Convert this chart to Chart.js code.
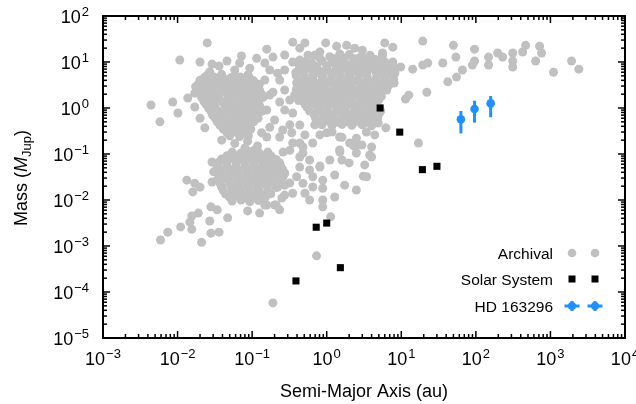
<!DOCTYPE html>
<html>
<head>
<meta charset="utf-8">
<script src="https://cdn.jsdelivr.net/npm/chart.js@4.4.1/dist/chart.umd.min.js"></script>
<style>
  html, body { margin: 0; padding: 0; background: #fff; }
  #chart { display: block; }
</style>
</head>
<body>
<canvas id="chart" width="636" height="404"></canvas>
<script>
// archival exoplanets: [semi-major axis (au), mass (M_Jup)]
const archival = [
  // cold/warm giants
  [0.69,14],[1.1,13],[1.5,15],[2.0,14.5],[2.8,12.5],[3.8,14],
  [0.81,12],[1.28,11.8],[1.74,12.2],[2.37,11.7],[3.23,12],[4.4,11.5],
  [0.51,10],[0.63,9.5],[0.87,10.5],[1.18,9.8],[1.6,10.2],[2.2,9.6],[3.0,10.4],[4.0,9.9],[5.1,10],[6.4,9.2],
  [0.43,8.2],[0.57,8.4],[0.73,8.0],[1.0,8.3],[1.36,8.1],[1.85,8.4],[2.52,8.0],[3.43,8.2],[4.55,8.3],[6.0,8.1],
  [0.44,7.0],[0.57,7.4],[0.76,6.8],[1.0,7.2],[1.32,6.9],[1.74,7.3],[2.3,6.7],[3.0,7.1],[4.0,7.4],[5.3,6.8],[7.0,7.0],
  [0.385,5.9],[0.49,6.1],[0.65,5.8],[0.87,6.0],[1.13,5.9],[1.49,6.1],[1.97,5.8],[2.6,6.0],[3.43,5.9],[4.55,6.1],[6.0,5.8],[7.5,6.0],
  [0.39,5.0],[0.51,4.7],[0.67,5.2],[0.88,4.9],[1.18,5.1],[1.54,4.8],[2.03,5.0],[2.7,5.2],[3.5,4.8],[4.7,5.0],[6.2,4.9],[7.9,5.1],
  [0.49,4.2],[0.65,4.1],[0.87,4.25],[1.13,4.1],[1.49,4.2],[1.97,4.15],[2.6,4.1],[3.43,4.25],[4.55,4.1],[6.0,4.2],[7.9,4.1],
  [0.45,3.5],[0.59,3.7],[0.77,3.4],[1.02,3.6],[1.35,3.3],[1.77,3.5],[2.35,3.8],[3.1,3.4],[4.1,3.6],[5.4,3.5],[7.0,3.3],
  [0.42,2.95],[0.55,2.9],[0.72,3.0],[0.95,2.9],[1.26,2.95],[1.65,3.0],[2.2,2.9],[2.9,2.95],[3.8,3.0],[5.0,2.9],[6.6,2.95],
  [0.39,2.5],[0.51,2.4],[0.67,2.6],[0.88,2.45],[1.18,2.35],[1.54,2.55],[2.03,2.4],[2.7,2.5],[3.5,2.6],[4.7,2.4],[6.2,2.5],
  [0.42,2.05],[0.55,2.1],[0.72,2.0],[0.95,2.08],[1.26,2.05],[1.65,2.1],[2.2,2.0],[2.9,2.07],[3.8,2.1],[5.0,2.03],
  [0.45,1.75],[0.59,1.8],[0.77,1.7],[1.02,1.78],[1.35,1.68],[1.77,1.75],[2.35,1.82],[3.1,1.7],[4.1,1.75],[5.4,1.8],
  [0.42,1.45],[0.55,1.5],[0.72,1.42],[0.95,1.48],[1.26,1.45],[1.65,1.5],[2.2,1.42],[2.9,1.47],[3.8,1.45],[5.0,1.5],
  [0.51,1.2],[0.67,1.25],[0.88,1.18],[1.18,1.22],[1.54,1.28],[2.03,1.2],[2.7,1.15],[3.5,1.24],[4.5,1.2],
  [0.58,1.03],[0.77,1.0],[1.02,1.05],[1.35,1.02],[1.77,1.0],[2.35,1.04],[3.1,1.02],[4.0,1.0],[5.0,1.03],
  [0.59,0.86],[0.78,0.9],[1.03,0.84],[1.36,0.88],[1.8,0.82],[2.37,0.87],[3.1,0.9],[4.1,0.84],[5.3,0.86],
  [0.68,0.72],[0.9,0.74],[1.2,0.71],[1.56,0.73],[2.07,0.72],[2.7,0.74],[3.6,0.71],[4.7,0.72],
  [0.71,0.6],[0.94,0.62],[1.24,0.58],[1.64,0.61],[2.17,0.6],[2.85,0.63],[3.77,0.59],[4.8,0.6],
  [0.82,0.5],[1.08,0.51],[1.43,0.49],[1.9,0.5],[2.5,0.51],[3.3,0.49],[4.25,0.5],
  [0.86,0.43],[1.18,0.41],[1.6,0.44],[2.17,0.42],[3.0,0.43],[4.0,0.41],
  [0.35,27],[0.97,26],[1.36,22],[1.85,23],[2.37,20],[3.0,18],[6.0,26],[7.7,21],[0.81,16.5],[5.6,14],
  [7.7,10],[8.2,7.3],[0.56,14],[0.435,11],[0.157,19],[0.19,12.8],[0.148,9.5],
  [6.2,0.37],[4.4,0.26],[4.0,0.142],[3.77,0.095],[3.1,0.033],[2.5,0.0165],[5.1,0.78],[4.9,0.47],[3.4,0.30],
  [2.0,0.064],[2.3,0.15],[1.5,0.11],[0.81,0.052],[1.6,0.23],[1.18,0.30],[2.5,0.22],[2.96,0.157],
  // hot jupiters
  [0.025,5.2],[0.039,5.4],[0.059,5.0],[0.088,5.3],
  [0.023,4.6],[0.031,4.7],[0.04,4.5],[0.053,4.6],[0.07,4.7],[0.092,4.5],
  [0.02,4.0],[0.027,4.2],[0.034,3.9],[0.046,4.1],[0.061,4.0],[0.08,4.2],[0.105,3.9],
  [0.019,3.3],[0.025,3.4],[0.031,3.2],[0.042,3.3],[0.056,3.4],[0.074,3.3],[0.097,3.2],[0.125,3.3],
  [0.0175,2.9],[0.0225,2.8],[0.0295,2.95],[0.039,2.85],[0.052,2.9],[0.068,2.8],[0.089,2.95],[0.118,2.85],
  [0.019,2.4],[0.024,2.45],[0.031,2.35],[0.042,2.4],[0.056,2.45],[0.074,2.35],[0.097,2.4],[0.126,2.4],
  [0.02,2.0],[0.026,2.1],[0.034,1.95],[0.046,2.05],[0.061,2.0],[0.08,2.1],[0.105,1.95],[0.134,2.0],
  [0.021,1.7],[0.027,1.72],[0.036,1.68],[0.048,1.7],[0.064,1.72],[0.085,1.68],[0.11,1.7],[0.14,1.7],
  [0.0225,1.4],[0.0295,1.45],[0.039,1.38],[0.052,1.42],[0.068,1.46],[0.089,1.4],[0.118,1.43],
  [0.024,1.2],[0.031,1.18],[0.042,1.22],[0.055,1.2],[0.072,1.18],[0.095,1.22],[0.124,1.2],
  [0.026,1.0],[0.0325,0.97],[0.044,1.03],[0.0585,0.98],[0.077,1.02],[0.102,0.99],[0.13,1.0],
  [0.028,0.85],[0.036,0.83],[0.048,0.86],[0.063,0.84],[0.083,0.86],[0.108,0.84],[0.135,0.85],
  [0.0295,0.7],[0.039,0.72],[0.052,0.69],[0.068,0.71],[0.089,0.7],[0.114,0.68],
  [0.032,0.6],[0.042,0.58],[0.056,0.61],[0.074,0.59],[0.097,0.6],[0.12,0.6],
  [0.034,0.5],[0.046,0.48],[0.061,0.51],[0.08,0.49],[0.105,0.5],
  [0.037,0.42],[0.05,0.41],[0.066,0.43],[0.088,0.42],
  [0.041,0.35],[0.055,0.36],[0.073,0.34],[0.096,0.35],
  [0.046,0.29],[0.06,0.3],[0.08,0.29],
  [0.05,0.25],[0.068,0.24],[0.089,0.25],
  [0.025,26],[0.02,10],[0.029,9.0],[0.036,8.2],[0.046,10.5],[0.068,9.5],[0.072,13.5],[0.115,12],
  [0.0107,11],[0.0585,6.7],[0.093,7.3],[0.027,6.1],
  [0.0044,1.16],[0.0086,1.35],[0.0058,0.5],[0.0101,0.78],[0.0137,1.65],[0.017,2.1],[0.017,1.05],
  [0.02,0.6],[0.0232,0.37],
  [0.0585,0.17],[0.087,0.19],[0.118,0.15],[0.039,0.2],[0.134,0.29],[0.08,0.135],[0.108,0.122],
  // super-earths / neptunes
  [0.054,0.11],[0.071,0.105],[0.093,0.112],[0.122,0.108],[0.162,0.11],
  [0.046,0.092],[0.061,0.09],[0.08,0.094],[0.105,0.091],[0.138,0.093],[0.18,0.09],
  [0.039,0.078],[0.052,0.08],[0.068,0.076],[0.089,0.079],[0.118,0.077],[0.157,0.08],[0.21,0.076],
  [0.036,0.066],[0.046,0.064],[0.061,0.067],[0.08,0.065],[0.105,0.066],[0.138,0.064],[0.183,0.067],[0.23,0.065],
  [0.034,0.055],[0.046,0.053],[0.061,0.056],[0.08,0.054],[0.105,0.057],[0.138,0.053],[0.183,0.055],[0.242,0.054],
  [0.037,0.046],[0.049,0.047],[0.064,0.045],[0.085,0.046],[0.112,0.047],[0.147,0.045],[0.195,0.046],[0.255,0.047],
  [0.039,0.038],[0.052,0.04],[0.068,0.037],[0.089,0.039],[0.118,0.04],[0.157,0.037],[0.21,0.039],[0.273,0.038],
  [0.036,0.032],[0.049,0.033],[0.064,0.032],[0.085,0.0325],[0.112,0.033],[0.147,0.032],[0.195,0.033],[0.26,0.032],
  [0.034,0.027],[0.046,0.028],[0.061,0.026],[0.08,0.0275],[0.105,0.027],[0.138,0.028],[0.183,0.026],[0.242,0.027],
  [0.037,0.023],[0.049,0.0235],[0.064,0.0225],[0.085,0.023],[0.112,0.0235],[0.147,0.023],[0.195,0.0228],[0.24,0.023],
  [0.039,0.019],[0.052,0.02],[0.068,0.0185],[0.089,0.0195],[0.118,0.019],[0.157,0.02],[0.21,0.0188],
  [0.041,0.016],[0.054,0.0162],[0.071,0.0158],[0.093,0.016],[0.124,0.0162],[0.165,0.0158],
  [0.044,0.0135],[0.0585,0.014],[0.077,0.013],[0.102,0.0138],[0.134,0.0132],[0.178,0.0136],
  [0.05,0.0115],[0.066,0.0117],[0.086,0.0113],[0.113,0.0116],[0.15,0.0114],
  [0.054,0.0095],[0.071,0.01],[0.093,0.0092],[0.122,0.0097],
  [0.087,0.0058],[0.126,0.0052],[0.157,0.0078],[0.21,0.0078],[0.234,0.0061],[0.028,0.0071],[0.034,0.0061],
  [0.047,0.0041],[0.027,0.0035],[0.019,0.0052],[0.0155,0.0045],[0.0059,0.00135],[0.0074,0.002],
  [0.011,0.0026],[0.0155,0.0023],[0.021,0.0012],[0.028,0.0019],[0.036,0.002],[0.19,0.000058],
  [0.73,0.00061],[0.0146,0.0033],
  [0.0133,0.027],[0.017,0.023],[0.02,0.019],[0.016,0.015],[0.029,0.067],[0.0305,0.041],[0.029,0.0246],
  // in between
  [1.13,0.0043],[0.885,0.0071],[0.885,0.01],[1.28,0.0116],[0.885,0.018],[0.885,0.027],[0.65,0.032],
  [0.48,0.023],[0.59,0.01],[0.25,0.011],[0.2,0.0078],[0.148,0.0078],[0.81,0.055],[1.49,0.122],
  [2.5,0.105],[3.23,0.058],[3.43,0.032],[4.0,0.086],[2.6,0.157],[1.6,0.074],[1.0,0.29],[0.65,0.173],
  [0.48,0.142],[0.35,0.173],[0.48,0.105],[0.59,0.074],[0.435,0.052],[0.395,0.032],[0.273,0.0386],
  [0.319,0.0234],[0.22,0.019],[0.172,0.027],[0.157,0.052],[0.2,0.067],[0.162,0.086],[0.26,0.11],
  [0.157,0.234],[0.234,0.234],[0.34,0.29],[0.435,0.173],[0.81,0.26],[1.49,0.234],[2.03,0.173],
  [0.35,0.014],[0.273,0.0128],[0.138,0.0386],[0.234,0.064],[0.65,0.0192],[17,0.173],
  [0.32,0.12],[0.435,0.086],[0.59,0.045],[0.273,0.021],[0.51,0.014],[1.1,0.074],[1.28,0.035],
  [1.74,0.021],[0.69,0.43],[0.51,0.26],[0.32,0.43],[0.2,0.55],[0.273,0.9],
  [0.22,5.7],[0.19,2.2],[0.273,2.46],[0.35,10],[0.395,3.5],[0.157,0.9],[0.234,1.35],[0.35,0.78],
  [0.435,0.427],[0.257,0.333],[0.172,0.38],[0.54,1.05],[0.148,4.06],[0.273,6.7],[0.319,1.49],[0.172,1.92],
  [0.372,1.92],[0.234,4.06],[0.172,6.7],[0.273,14.2],[0.435,20],[0.51,26],
  // wide orbits
  [19.4,28.5],[50,23],[96,19],[54,12.8],[36,9.5],[22.6,9.5],[19.4,8.6],[14.2,7.0],[9.8,7.8],[90,8.6],
  [96,10.5],[148,12.8],[148,8.6],[196,15.7],[229,12.8],[312,15.7],[312,10.5],[312,7.8],[424,16.5],
  [465,23],[716,22],[761,15.7],[633,10.5],[1100,6.0],[1920,10.5],[2400,7.0],[66,6.7],[55,4.7],[42,3.7],
  [22,2.2],[12.6,1.9],[11.4,1.57],[8.0,3.5],[5.6,15.7],[8.2,5.7],[6.0,10],[6.4,2.46]
];

// solar system planets
const solarA = [0.387, 0.723, 1.0, 1.524, 5.203, 9.537, 19.19, 30.07];
const solarM = [1.74e-4, 2.56e-3, 3.15e-3, 3.38e-4, 1.0, 0.299, 0.0457, 0.054];

// HD 163296 candidates, with mass error range
const hdA = [63, 96, 158];
const hdM = [0.57, 0.95, 1.26];
const hdLo = [0.28, 0.48, 0.63];
const hdHi = [0.86, 1.44, 1.82];

// tick exponents
const xExps = [-3, -2, -1, 0, 1, 2, 3, 4];
const yExps = [-5, -4, -3, -2, -1, 0, 1, 2];

const FONT = '"Liberation Sans", Arial, Helvetica, sans-serif';
const GREY = '#c0c0c0';
const BLUE = '#1e90ff';

function line(ctx, x1, y1, x2, y2) {
  ctx.beginPath();
  ctx.moveTo(x1, y1);
  ctx.lineTo(x2, y2);
  ctx.stroke();
}

// 10^n label, baseline y, anchored centre or right
function powLabel(ctx, n, x, y, align) {
  const sup = n < 0 ? '\u2212' + (-n) : String(n);
  ctx.font = '18px ' + FONT;
  const wb = ctx.measureText('10').width;
  ctx.font = '13px ' + FONT;
  const ws = ctx.measureText(sup).width;
  const w = wb + 1 + ws;
  const x0 = align === 'center' ? x - w / 2 : x - w;
  ctx.textAlign = 'left';
  ctx.textBaseline = 'alphabetic';
  ctx.font = '18px ' + FONT;
  ctx.fillText('10', x0, y);
  ctx.font = '13px ' + FONT;
  ctx.fillText(sup, x0 + wb + 1, y - 7);
}

const errorBars = {
  id: 'errorBars',
  afterDatasetsDraw(chart) {
    const { ctx, scales: { x, y } } = chart;
    ctx.save();
    ctx.strokeStyle = BLUE;
    ctx.lineWidth = 3;
    hdA.forEach((a, i) => {
      const px = x.getPixelForValue(a);
      line(ctx, px, y.getPixelForValue(hdLo[i]), px, y.getPixelForValue(hdHi[i]));
    });
    ctx.restore();
  }
};

const decorations = {
  id: 'decorations',
  afterDraw(chart) {
    const { ctx, chartArea: { left, right, top, bottom }, scales: { x, y } } = chart;
    ctx.save();
    ctx.strokeStyle = '#000';
    ctx.fillStyle = '#000';

    // ticks, inward on all four sides
    ctx.lineWidth = 1.5;
    for (let d = -3; d <= 4; d++) {
      for (let k = 1; k <= 9; k++) {
        const v = k * Math.pow(10, d);
        if (v > 1.0001e4) break;
        const px = x.getPixelForValue(v);
        const len = k === 1 ? 7 : 4;
        line(ctx, px, bottom, px, bottom - len);
        line(ctx, px, top, px, top + len);
      }
    }
    for (let d = -5; d <= 2; d++) {
      for (let k = 1; k <= 9; k++) {
        const v = k * Math.pow(10, d);
        if (v > 1.0001e2) break;
        const py = y.getPixelForValue(v);
        const len = k === 1 ? 7 : 4;
        line(ctx, left, py, left + len, py);
        line(ctx, right, py, right - len, py);
      }
    }
    ctx.lineWidth = 2;
    ctx.strokeRect(left, top, right - left, bottom - top);

    // tick labels
    xExps.forEach(n => powLabel(ctx, n, x.getPixelForValue(Math.pow(10, n)), 365, 'center'));
    yExps.forEach(n => powLabel(ctx, n, 89, y.getPixelForValue(Math.pow(10, n)) + 6.5, 'right'));

    // axis titles
    ctx.font = '18px ' + FONT;
    ctx.textAlign = 'center';
    ctx.textBaseline = 'alphabetic';
    ctx.fillText('Semi-Major Axis (au)', (left + right) / 2, 397);

    ctx.save();
    ctx.translate(27, 178);
    ctx.rotate(-Math.PI / 2);
    const parts = [
      ['Mass (', '18px ' + FONT, 0],
      ['M', 'italic 18px ' + FONT, 0],
      ['Jup', '13px ' + FONT, 4],
      [')', '18px ' + FONT, 0]
    ];
    let total = 0;
    parts.forEach(p => { ctx.font = p[1]; total += ctx.measureText(p[0]).width; });
    let cx = -total / 2;
    ctx.textAlign = 'left';
    parts.forEach(p => {
      ctx.font = p[1];
      ctx.fillText(p[0], cx, p[2]);
      cx += ctx.measureText(p[0]).width;
    });
    ctx.restore();

    // legend
    const rows = [253, 279, 306];
    const marks = [572, 595];
    ctx.font = '15.5px ' + FONT;
    ctx.textAlign = 'right';
    chart.data.datasets.forEach((ds, i) => {
      const ry = rows[i];
      ctx.fillStyle = '#000';
      ctx.fillText(ds.label, 553, ry + 5.5);
      marks.forEach(mx => {
        if (i === 0) {
          ctx.fillStyle = GREY;
          ctx.beginPath();
          ctx.arc(mx, ry, 4.3, 0, Math.PI * 2);
          ctx.fill();
        } else if (i === 1) {
          ctx.fillStyle = '#000';
          ctx.fillRect(mx - 3.5, ry - 3.5, 7, 7);
        } else {
          ctx.strokeStyle = BLUE;
          ctx.fillStyle = BLUE;
          ctx.lineWidth = 3;
          line(ctx, mx - 7.5, ry, mx + 7.5, ry);
          line(ctx, mx, ry - 5, mx, ry + 5);
          ctx.beginPath();
          ctx.arc(mx, ry, 4, 0, Math.PI * 2);
          ctx.fill();
        }
      });
    });
    ctx.restore();
  }
};

new Chart(document.getElementById('chart'), {
  type: 'scatter',
  data: {
    datasets: [
      {
        label: 'Archival',
        data: archival.map(p => ({ x: p[0], y: p[1] })),
        backgroundColor: GREY,
        borderWidth: 0,
        pointRadius: 4.5,
        order: 3
      },
      {
        label: 'Solar System',
        data: solarA.map((a, i) => ({ x: a, y: solarM[i] })),
        backgroundColor: '#000',
        borderWidth: 0,
        pointStyle: 'rect',
        pointRadius: 5,
        order: 2
      },
      {
        label: 'HD 163296',
        data: hdA.map((a, i) => ({ x: a, y: hdM[i] })),
        backgroundColor: BLUE,
        borderWidth: 0,
        pointRadius: 4.3,
        order: 1
      }
    ]
  },
  options: {
    responsive: false,
    animation: false,
    events: [],
    layout: { padding: { left: 103, right: 11, top: 16, bottom: 66 } },
    scales: {
      x: { type: 'logarithmic', min: 1e-3, max: 1e4, display: false },
      y: { type: 'logarithmic', min: 1e-5, max: 1e2, display: false }
    },
    plugins: {
      legend: { display: false },
      tooltip: { enabled: false }
    }
  },
  plugins: [errorBars, decorations]
});
</script>
</body>
</html>
